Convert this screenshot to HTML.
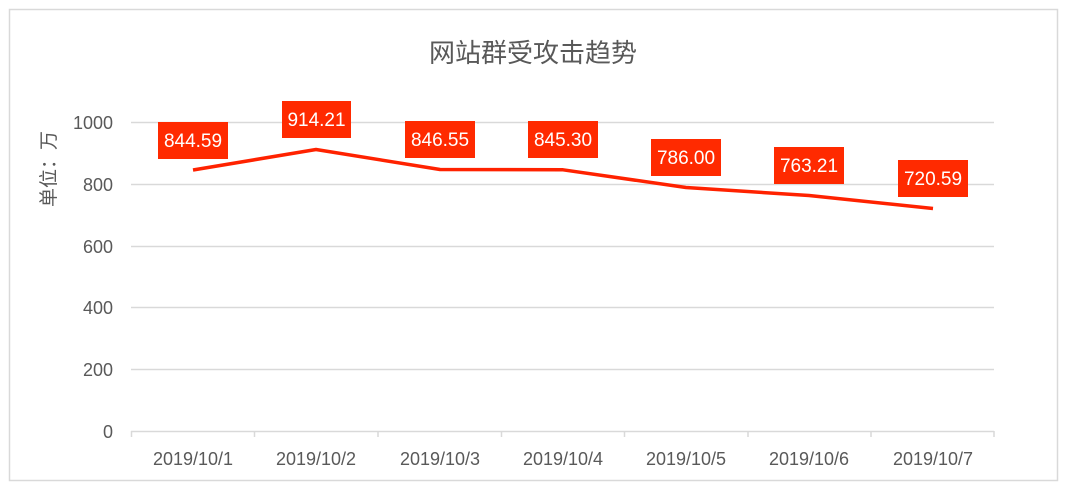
<!DOCTYPE html>
<html><head><meta charset="utf-8"><style>
body{margin:0;background:#fff;}
svg text{font-family:"Liberation Sans","Noto Sans CJK SC",sans-serif;}
</style></head><body>
<svg width="1066" height="492" viewBox="0 0 1066 492" xmlns="http://www.w3.org/2000/svg">
<rect x="9.5" y="9.5" width="1048" height="471" fill="#fff" stroke="#d9d9d9" stroke-width="1.5"/>
<text x="533" y="62" text-anchor="middle" font-size="26" fill="#595959">网站群受攻击趋势</text>
<g stroke="#d9d9d9" stroke-width="1.5">
<line x1="131" y1="122.5" x2="994" y2="122.5"/>
<line x1="131" y1="184.5" x2="994" y2="184.5"/>
<line x1="131" y1="246.5" x2="994" y2="246.5"/>
<line x1="131" y1="307.5" x2="994" y2="307.5"/>
<line x1="131" y1="369.5" x2="994" y2="369.5"/>
<line x1="131" y1="431.5" x2="994" y2="431.5"/>
<line x1="131.5" y1="431" x2="131.5" y2="437"/>
<line x1="254.5" y1="431" x2="254.5" y2="437"/>
<line x1="378" y1="431" x2="378" y2="437"/>
<line x1="501.5" y1="431" x2="501.5" y2="437"/>
<line x1="624.5" y1="431" x2="624.5" y2="437"/>
<line x1="748" y1="431" x2="748" y2="437"/>
<line x1="871" y1="431" x2="871" y2="437"/>
<line x1="994" y1="431" x2="994" y2="437"/>
</g>
<g font-size="18" fill="#595959" text-anchor="end">
<text x="113" y="129">1000</text>
<text x="113" y="191">800</text>
<text x="113" y="253">600</text>
<text x="113" y="314">400</text>
<text x="113" y="376">200</text>
<text x="113" y="438">0</text>
</g>
<text transform="translate(55,169) rotate(-90)" text-anchor="middle" font-size="19" fill="#595959">单位：万</text>
<g font-size="18" fill="#595959" text-anchor="middle">
<text x="193" y="465">2019/10/1</text>
<text x="316" y="465">2019/10/2</text>
<text x="440" y="465">2019/10/3</text>
<text x="563" y="465">2019/10/4</text>
<text x="686" y="465">2019/10/5</text>
<text x="809" y="465">2019/10/6</text>
<text x="933" y="465">2019/10/7</text>
</g>
<polyline fill="none" stroke="#ff2200" stroke-width="3.5" stroke-linejoin="round" points="193,170 316,149.5 440,169.5 563,169.8 686,187.5 809,195.5 933,208.5"/>
<g fill="#ff2a00">
<rect x="158" y="122" width="70" height="37"/>
<rect x="282" y="101" width="69" height="37"/>
<rect x="405" y="121" width="70" height="37"/>
<rect x="528" y="121" width="70" height="37"/>
<rect x="651" y="139" width="70" height="37"/>
<rect x="774" y="147" width="70" height="37"/>
<rect x="898" y="160" width="70" height="37"/>
</g>
<g font-size="19" fill="#fff" text-anchor="middle">
<text x="193" y="147">844.59</text>
<text x="316.5" y="126">914.21</text>
<text x="440" y="146">846.55</text>
<text x="563" y="146">845.30</text>
<text x="686" y="164">786.00</text>
<text x="809" y="172">763.21</text>
<text x="933" y="185">720.59</text>
</g>
</svg>
</body></html>
